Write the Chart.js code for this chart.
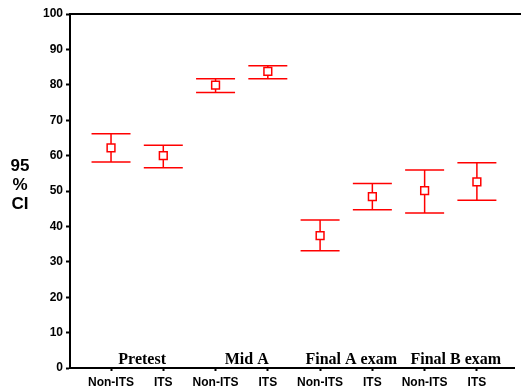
<!DOCTYPE html>
<html>
<head>
<meta charset="utf-8">
<script src="https://cdn.jsdelivr.net/npm/chart.js@4"></script>
<style>
  body { margin: 0; background: #fff; }
  canvas { display: block; }
</style>
</head>
<body>
<canvas id="ciChart" width="521" height="390"></canvas>
<script>
// values
const tickLabels = ['Non-ITS', 'ITS', 'Non-ITS', 'ITS', 'Non-ITS', 'ITS', 'Non-ITS', 'ITS'];
const groupLabels = ['Pretest', 'Mid A', 'Final A exam', 'Final B exam'];
const means = [62.2, 60.0, 79.9, 83.8, 37.4, 48.4, 50.1, 52.6];
const upper = [66.2, 62.9, 81.7, 85.4, 41.8, 52.1, 55.9, 58.0];
const lower = [58.2, 56.6, 77.8, 81.7, 33.1, 44.7, 43.8, 47.4];

const xPos = tickLabels.map((_, i) => i + 1);
const red = '#ff0000';

const ctx = document.getElementById('ciChart').getContext('2d');

// error bars + group titles + y title + top frame line
const ciPlugin = {
    id: 'ciBars',
    beforeDatasetsDraw(chart) {
        const c = chart.ctx;
        const xs = chart.scales.x, ys = chart.scales.y;
        c.save();
        c.strokeStyle = red;
        c.lineWidth = 1.5;
        xPos.forEach((v, i) => {
            const px = xs.getPixelForValue(v);
            const top = ys.getPixelForValue(upper[i]);
            const bot = ys.getPixelForValue(lower[i]);
            c.beginPath();
            c.moveTo(px, top); c.lineTo(px, bot);
            c.moveTo(px - 19.5, top); c.lineTo(px + 19.5, top);
            c.moveTo(px - 19.5, bot); c.lineTo(px + 19.5, bot);
            c.stroke();
        });
        c.restore();
    },
    afterDraw(chart) {
        const c = chart.ctx;
        const area = chart.chartArea;
        const xs = chart.scales.x;
        c.save();
        // top frame line
        c.strokeStyle = '#000';
        c.lineWidth = 2;
        c.beginPath();
        c.moveTo(area.left, area.top);
        c.lineTo(chart.width, area.top);
        c.stroke();

        // group titles above the x axis
        c.fillStyle = '#000';
        c.font = 'bold 16px "Liberation Serif", "Times New Roman", serif';
        c.textAlign = 'center';
        c.textBaseline = 'alphabetic';
        groupLabels.forEach((g, i) => {
            const mid = (xs.getPixelForValue(xPos[2 * i]) + xs.getPixelForValue(xPos[2 * i + 1])) / 2;
            c.fillText(g, mid + 5, area.bottom - 4);
        });

        // y title
        c.font = 'bold 17px "Liberation Sans", Arial, sans-serif';
        c.textBaseline = 'middle';
        ['95', '%', 'CI'].forEach((t, i) => {
            c.fillText(t, 20, 166 + i * 19);
        });
        c.restore();
    }
};

new Chart(ctx, {
    type: 'scatter',
    data: {
        datasets: [{
            data: xPos.map((x, i) => ({ x: x, y: means[i] })),
            pointStyle: 'rect',
            pointRadius: 5.5,
            pointHoverRadius: 5.5,
            borderColor: red,
            backgroundColor: '#ffffff',
            borderWidth: 1.5
        }]
    },
    options: {
        responsive: false,
        animation: false,
        layout: {
            padding: { top: 14, right: 0, left: 0, bottom: 0 }
        },
        plugins: {
            legend: { display: false },
            tooltip: { enabled: false }
        },
        scales: {
            x: {
                type: 'linear',
                min: 0.215,
                max: 8.71,
                afterBuildTicks(scale) {
                    scale.ticks = xPos.map(v => ({ value: v }));
                },
                afterFit(scale) {
                    scale.height = 22;
                },
                grid: {
                    drawOnChartArea: false,
                    tickLength: 3,
                    tickColor: '#000',
                    tickWidth: 2
                },
                border: { color: '#000', width: 2 },
                ticks: {
                    autoSkip: false,
                    maxRotation: 0,
                    padding: 4,
                    color: '#000',
                    font: { family: '"Liberation Sans", Arial, sans-serif', size: 12, weight: 'bold' },
                    callback: (v) => tickLabels[v - 1]
                }
            },
            y: {
                min: 0,
                max: 100,
                afterFit(scale) {
                    scale.width = 70;
                },
                grid: {
                    drawOnChartArea: false,
                    tickLength: 4,
                    tickColor: '#000',
                    tickWidth: 2
                },
                border: { color: '#000', width: 2 },
                ticks: {
                    stepSize: 10,
                    padding: 3,
                    color: '#000',
                    font: { family: '"Liberation Sans", Arial, sans-serif', size: 12, weight: 'bold' }
                }
            }
        }
    },
    plugins: [ciPlugin]
});
</script>
</body>
</html>
